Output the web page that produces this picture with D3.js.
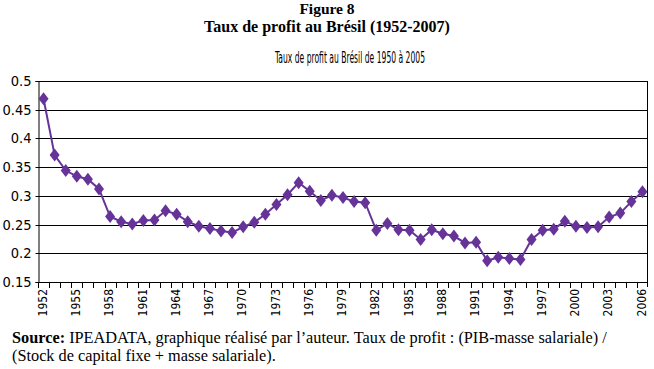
<!DOCTYPE html>
<html>
<head>
<meta charset="utf-8">
<script src="https://cdn.jsdelivr.net/npm/d3@7"></script>
<style>
  body { margin: 0; background: #fff; }
  .serif { font-family: "Liberation Serif", "Times New Roman", serif; }
  .narrow { font-family: "Liberation Sans Narrow", "DejaVu Sans Condensed", sans-serif; }
</style>
</head>
<body>
<div id="chart"></div>
<script>
// years on the category axis
var years = [
  1952, 1953, 1954, 1955, 1956, 1957, 1958, 1959, 1960, 1961,
  1962, 1963, 1964, 1965, 1966, 1967, 1968, 1969, 1970, 1971,
  1972, 1973, 1974, 1975, 1976, 1977, 1978, 1979, 1980, 1981,
  1982, 1983, 1984, 1985, 1986, 1987, 1988, 1989, 1990, 1991,
  1992, 1993, 1994, 1995, 1996, 1997, 1998, 1999, 2000, 2001,
  2002, 2003, 2004, 2005, 2006
];

// taux de profit
var profit_rate = [
  0.469, 0.371, 0.344, 0.334, 0.329, 0.312, 0.264, 0.255, 0.251, 0.257,
  0.258, 0.274, 0.268, 0.255, 0.247, 0.243, 0.239, 0.236, 0.246, 0.254,
  0.268, 0.285, 0.302, 0.323, 0.308, 0.292, 0.301, 0.297, 0.290, 0.288,
  0.240, 0.252, 0.241, 0.240, 0.224, 0.241, 0.234, 0.230, 0.218, 0.219,
  0.187, 0.193, 0.191, 0.189, 0.224, 0.240, 0.242, 0.256, 0.247, 0.245,
  0.246, 0.263, 0.270, 0.290, 0.307
];

var y_ticks = [0.15, 0.2, 0.25, 0.3, 0.35, 0.4, 0.45, 0.5];
var y_tick_labels = ['0.15', '0.2', '0.25', '0.3', '0.35', '0.4', '0.45', '0.5'];
var x_tick_labels = [1952, 1955, 1958, 1961, 1964, 1967, 1970, 1973, 1976,
  1979, 1982, 1985, 1988, 1991, 1994, 1997, 2000, 2003, 2006];

var chart_width = 654;
var chart_height = 369;
var plot = { left: 38, right: 648, top: 81, bottom: 282 };
var purple = '#663399';

var svg = d3.select('#chart')
  .append('svg')
  .attr('width', chart_width)
  .attr('height', chart_height);

// scales
var x_scale = d3.scaleBand()
  .domain(years)
  .range([plot.left, plot.right]);

var y_scale = d3.scaleLinear()
  .domain([0.15, 0.5])
  .range([plot.bottom, plot.top]);

// titles
svg.append('text')
  .attr('class', 'serif')
  .attr('x', 327)
  .attr('y', 14)
  .attr('text-anchor', 'middle')
  .attr('font-size', 15.5)
  .attr('font-weight', 'bold')
  .text('Figure 8');

svg.append('text')
  .attr('class', 'serif')
  .attr('x', 327)
  .attr('y', 32)
  .attr('text-anchor', 'middle')
  .attr('font-size', 16)
  .attr('font-weight', 'bold')
  .text('Taux de profit au Brésil (1952-2007)');

svg.append('text')
  .attr('class', 'narrow')
  .attr('x', 275)
  .attr('y', 63)
  .attr('font-size', 16.5)
  .attr('textLength', 150)
  .attr('lengthAdjust', 'spacingAndGlyphs')
  .text('Taux de profit au Brésil de 1950 à 2005');

// horizontal gridlines
svg.append('g')
  .selectAll('line')
  .data(y_ticks)
  .enter()
  .append('line')
  .attr('x1', plot.left)
  .attr('x2', plot.right)
  .attr('y1', function(d) { return Math.round(y_scale(d)) + 0.5; })
  .attr('y2', function(d) { return Math.round(y_scale(d)) + 0.5; })
  .attr('stroke', '#000')
  .attr('stroke-width', 1);

// y axis
var y_axis = d3.axisLeft(y_scale)
  .tickValues(y_ticks)
  .tickFormat(function(d, i) { return y_tick_labels[i]; })
  .tickSize(3)
  .tickPadding(4);

var y_g = svg.append('g')
  .attr('transform', 'translate(' + (plot.left + 0.5) + ',0)')
  .call(y_axis);
y_g.select('.domain').attr('stroke', '#000');
y_g.selectAll('.tick line').attr('stroke', '#000');
y_g.selectAll('.tick text')
  .attr('class', 'narrow')
  .attr('font-size', 14.5)
  .attr('fill', '#000');
y_g.selectAll('.tick').attr('transform', function(d) {
  return 'translate(0,' + (Math.round(y_scale(d)) + 0.5) + ')';
});

// right border
svg.append('line')
  .attr('x1', plot.right - 0.5)
  .attr('x2', plot.right - 0.5)
  .attr('y1', plot.top)
  .attr('y2', plot.bottom + 5)
  .attr('stroke', '#000');

// x axis: ticks between categories
var x_g = svg.append('g');
x_g.selectAll('line')
  .data(years)
  .enter()
  .append('line')
  .attr('x1', function(d) { return Math.round(x_scale(d)) + 0.5; })
  .attr('x2', function(d) { return Math.round(x_scale(d)) + 0.5; })
  .attr('y1', Math.round(plot.bottom) + 0.5)
  .attr('y2', Math.round(plot.bottom) + 6)
  .attr('stroke', '#000');

x_g.selectAll('text')
  .data(x_tick_labels)
  .enter()
  .append('text')
  .attr('class', 'narrow')
  .attr('font-size', 12)
  .attr('text-anchor', 'end')
  .attr('dy', '0.35em')
  .attr('transform', function(d) {
    var cx = x_scale(d) + x_scale.bandwidth() / 2 - 1;
    return 'translate(' + cx + ',' + (plot.bottom + 7) + ') rotate(-90)';
  })
  .text(function(d) { return d; });

// line
var line = d3.line()
  .x(function(d, i) { return x_scale(years[i]) + x_scale.bandwidth() / 2; })
  .y(function(d) { return y_scale(d); });

svg.append('path')
  .datum(profit_rate)
  .attr('d', line)
  .attr('fill', 'none')
  .attr('stroke', purple)
  .attr('stroke-width', 2);

// diamond markers
svg.append('g')
  .selectAll('path')
  .data(profit_rate)
  .enter()
  .append('path')
  .attr('d', 'M0,-6.5L5,0L0,6.5L-5,0Z')
  .attr('transform', function(d, i) {
    return 'translate(' + (x_scale(years[i]) + x_scale.bandwidth() / 2) + ',' + y_scale(d) + ')';
  })
  .attr('fill', purple);

// source note
var note = svg.append('text')
  .attr('class', 'serif')
  .attr('font-size', 16.3)
  .attr('x', 12)
  .attr('y', 343);
note.append('tspan')
  .attr('font-weight', 'bold')
  .text('Source:');
note.append('tspan')
  .text(' IPEADATA, graphique réalisé par l’auteur. Taux de profit : (PIB-masse salariale) /');

svg.append('text')
  .attr('class', 'serif')
  .attr('font-size', 16.3)
  .attr('x', 12)
  .attr('y', 361)
  .text('(Stock de capital fixe + masse salariale).');
</script>
</body>
</html>
